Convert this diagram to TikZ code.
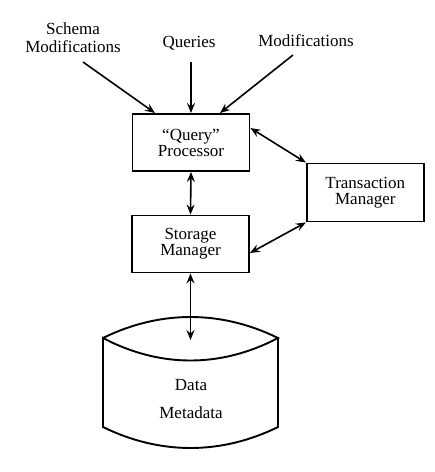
\documentclass[tikz,border=0pt]{standalone}
\usepackage{fontspec}
\setmainfont{Liberation Serif}
\usetikzlibrary{arrows.meta}
\begin{document}
\begin{tikzpicture}[x=1pt,y=-1pt,
  every node/.style={font=\fontsize{17}{19}\selectfont},
  box/.style={draw,line width=1.9pt,minimum width=117pt,minimum height=57pt,align=center,inner sep=0pt},
  lbl/.style={align=center,inner sep=0pt},
  arr/.style={line width=1.6pt,-{Stealth[length=10pt,width=8pt,inset=3.5pt]}},
  darr/.style={line width=1.6pt,{Stealth[length=10pt,width=8pt,inset=3.5pt]}-{Stealth[length=10pt,width=8pt,inset=3.5pt]}}]
\useasboundingbox (0,0) rectangle (435,472);
% boxes
\node[box] (qp) at (191,142.5) {``Query''\\[-3pt]Processor};
\node[box] (sm) at (190.5,244) {Storage\\[-3pt]Manager};
\node[box,minimum height=58pt] (tm) at (365.3,192.5) {Transaction\\[-3pt]Manager};
% top labels
\node[lbl] (schema) at (73,38) {Schema\\[-1pt]Modifications};
\node[lbl] (queries) at (189,43) {Queries};
\node[lbl] (mods) at (306,41) {Modifications};
% cylinder
\coordinate (cl) at (103,338);
\coordinate (cr) at (278,338);
\coordinate (bl) at (103,427);
\coordinate (br) at (278,427);
\coordinate (ctop) at (190.5,340);
\draw[line width=1.9pt] (cl) .. controls (160,310) and (221,310) .. (cr)
  .. controls (221,368) and (160,368) .. (cl) -- (bl)
  .. controls (160,455) and (221,455) .. (br) -- (cr);
\node[lbl] (data) at (191,385) {Data};
\node[lbl] (meta) at (191,413) {Metadata};
% arrows
\coordinate (s0) at (83,62);
\coordinate (q0) at (191,62);
\coordinate (m0) at (293,55);
\draw[arr] (s0) -- (qp.north west -| 155,0);
\draw[arr] (q0) -- (qp.north);
\draw[arr] (m0) -- (qp.north -| 220,0);
\draw[darr] (qp.south) -- (sm.north);
\draw[darr] (sm.south) -- (ctop);
\draw[darr] (qp.east |- 0,128) -- (tm.north west);
\draw[darr] (sm.east |- 0,253) -- (tm.south west);
\end{tikzpicture}
\end{document}
